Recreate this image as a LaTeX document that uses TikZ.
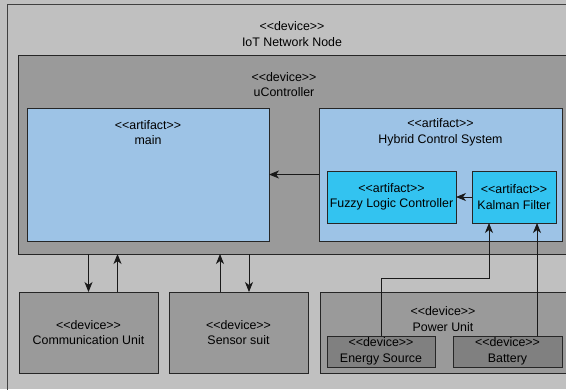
\documentclass[tikz,border=0pt]{standalone}
\usepackage{fontspec}
\setmainfont{Liberation Sans}
\usetikzlibrary{arrows.meta,positioning}
\definecolor{outergray}{HTML}{C0C0C0}
\definecolor{devgray}{HTML}{9A9A9A}
\definecolor{partgray}{HTML}{808080}
\definecolor{artblue}{HTML}{9DC3E6}
\definecolor{subblue}{HTML}{33C3F0}
\newcommand{\stereo}[1]{<{}<#1>{}>}
\tikzset{
    box/.style={draw=black!85, line width=0.8pt, inner sep=0pt, outer sep=0pt, anchor=north west, align=center},
    devbox/.style={box, fill=devgray},
    partbox/.style={box, fill=partgray},
    artbox/.style={box, fill=artblue},
    subbox/.style={box, fill=subblue},
    tag/.style={align=center, inner sep=0pt},
    flow/.style={-{Stealth[length=10pt,width=8pt,inset=3pt]}, line width=0.8pt, black!90}
}
\begin{document}
\begin{tikzpicture}[x=1pt, y=-1pt, font=\fontsize{12.4}{15.5}\selectfont]
    \useasboundingbox (0,0) rectangle (566,389);
    \clip (0,0) rectangle (566,389);
    \fill[outergray] (0,0) rectangle (566,389);

    % IoT network node
    \draw[black!75, line width=0.8pt] (7,420) -- (7,4) -- (620,4);
    \node[tag] (iotlbl) at (292,34) {\stereo{device}\\IoT Network Node};

    % uController and its artifacts
    \node[devbox, minimum width=620pt, minimum height=199pt] (uc) at (18,55) {};
    \node[tag] (uclbl) at (284,84.5) {\stereo{device}\\uController};
    \node[artbox, minimum width=242pt, minimum height=133pt] (main) at (27,108) {};
    \node[tag] (mainlbl) at ([yshift=-24.5pt]main.north) {\stereo{artifact}\\main};
    \node[artbox, minimum width=243pt, minimum height=133pt] (hyb) at (319,108) {};
    \node[tag] (hyblbl) at ([yshift=-24.5pt]hyb.north) {\stereo{artifact}\\Hybrid Control System};
    \node[subbox, minimum width=129pt, minimum height=52pt] (flc) at (327,171) {\stereo{artifact}\\Fuzzy Logic Controller};
    \node[subbox, minimum width=84pt, minimum height=52pt] (kf) at (472,171) {\stereo{artifact}\\Kalman Filter};

    % Units below
    \node[devbox, minimum width=139pt, minimum height=81pt] (comm) at (19,292) {\stereo{device}\\Communication Unit};
    \node[devbox, minimum width=139pt, minimum height=81pt] (sens) at (169,292) {\stereo{device}\\Sensor suit};
    \node[devbox, minimum width=300pt, minimum height=81pt] (pwr) at (320,292) {};
    \node[tag] (pwrlbl) at (443,319) {\stereo{device}\\Power Unit};
    \node[partbox, minimum width=108pt, minimum height=31pt] (es) at (327,336) {\stereo{device}\\Energy Source};
    \node[partbox, minimum width=109pt, minimum height=31pt] (bat) at (453,336) {\stereo{device}\\Battery};

    % Connectors
    \draw[flow] (hyb.west) -- (main.east);
    \draw[flow] (kf.west) -- (flc.east);

    \coordinate (cup) at ([xshift=29pt]comm.north);
    \coordinate (sup) at ([xshift=-18.5pt]sens.north);
    \coordinate (sdown) at ([xshift=10.5pt]sens.north);
    \draw[flow] (uc.south -| comm.north) -- (comm.north);
    \draw[flow] (cup) -- (cup |- uc.south);
    \draw[flow] (sup) -- (sup |- uc.south);
    \draw[flow] (sdown |- uc.south) -- (sdown);

    \coordinate (kfa) at ([xshift=-25pt]kf.south);
    \coordinate (kfb) at ([xshift=23pt]kf.south);
    \draw[flow] (es.north) |- (kfa |- 0,278) -- (kfa);
    \draw[flow] (kfb |- bat.north) -- (kfb);
\end{tikzpicture}
\end{document}
